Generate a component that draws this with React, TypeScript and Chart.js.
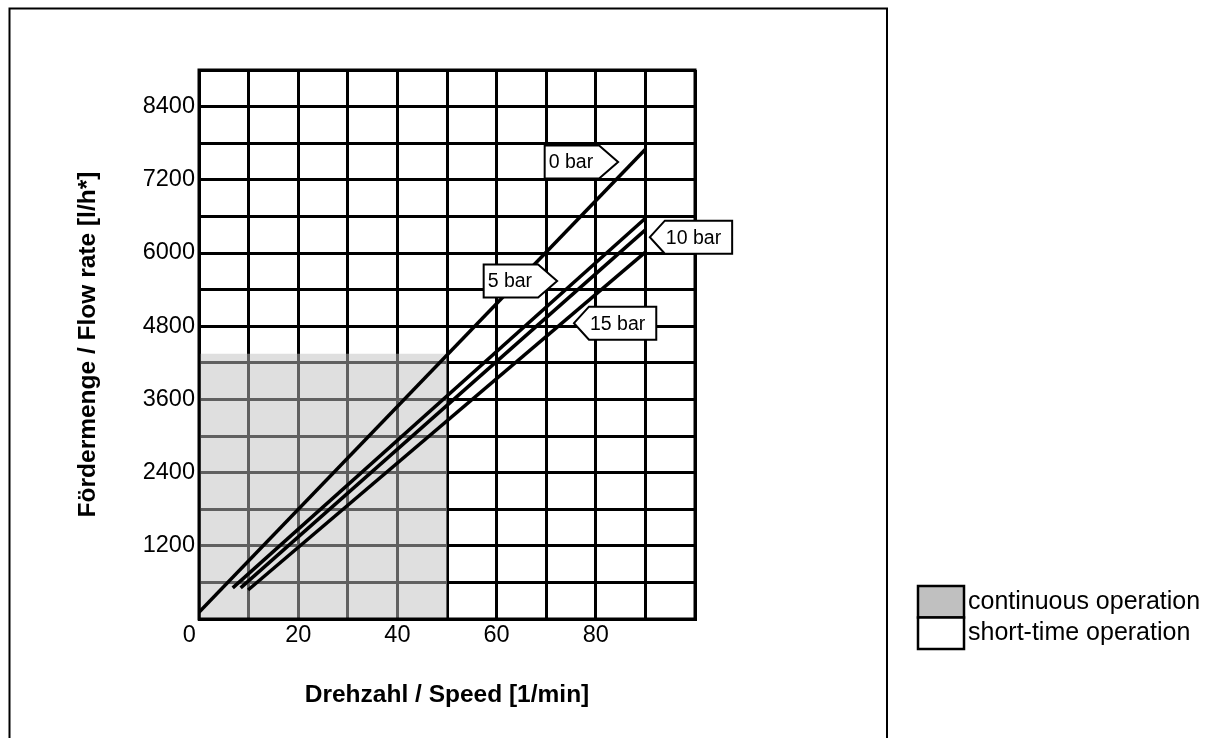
import { useEffect, useRef } from 'react';
import { Chart, registerables } from 'chart.js';

Chart.register(...registerables);

// ---- data ----
const speed0bar = [0, 90];
const flow0bar = [110, 7700];
const speed5bar = [6.8, 90];
const flow5bar = [510, 6570];
const speed10bar = [8.4, 90];
const flow10bar = [510, 6380];
const speed15bar = [9.9, 90];
const flow15bar = [475, 6015];

const continuousSpeed = [0, 50];
const continuousFlow = [4350, 4350];

const xTickLabels = [0, 20, 40, 60, 80];
const yTickLabels = [1200, 2400, 3600, 4800, 6000, 7200, 8400];

const calloutTexts = ['0 bar', '5 bar', '10 bar', '15 bar'];
const calloutSpeed = [84.5, 72.2, 90.9, 75.6];
const calloutFlow = [7490, 5540, 6260, 4850];
const calloutPointsRight = [true, true, false, false];

const legendLabels = ['continuous operation', 'short-time operation'];
const legendColors = ['#c0c0c0', '#ffffff'];

const xTitle = 'Drehzahl / Speed [1/min]';
const yTitle = 'Fördermenge / Flow rate [l/h*]';

const FONT = "'Liberation Sans', Arial, Helvetica, sans-serif";
const SHADE_INDEX = 4;

const toPoints = (xs: number[], ys: number[]) => xs.map((x, i) => ({ x, y: ys[i] }));

const framePlugin = {
  id: 'frame',
  beforeDraw(chart: any) {
    const ctx = chart.ctx;
    ctx.save();
    ctx.fillStyle = '#ffffff';
    ctx.fillRect(0, 0, chart.width, chart.height);
    ctx.strokeStyle = '#000000';
    ctx.lineWidth = 2;
    ctx.strokeRect(9.5, 8.5, 877.5, 800);
    ctx.restore();
  },
};

const areaBorderPlugin = {
  id: 'areaBorder',
  afterDatasetDraw(chart: any, args: any) {
    if (args.index !== SHADE_INDEX) return;
    const { left, top, right, bottom } = chart.chartArea;
    const ctx = chart.ctx;
    ctx.save();
    ctx.strokeStyle = '#000000';
    ctx.lineWidth = 3;
    ctx.strokeRect(left, top, right - left, bottom - top);
    ctx.restore();
  },
};

const calloutPlugin = {
  id: 'callouts',
  afterDatasetsDraw(chart: any) {
    const ctx = chart.ctx;
    const xs = chart.scales.x;
    const ys = chart.scales.y;
    ctx.save();
    ctx.font = `19.5px ${FONT}`;
    ctx.textBaseline = 'middle';
    ctx.textAlign = 'left';
    calloutTexts.forEach((t, i) => {
      const tx = xs.getPixelForValue(calloutSpeed[i]);
      const ty = ys.getPixelForValue(calloutFlow[i]);
      const w = ctx.measureText(t).width;
      const half = 16.5;
      let textX: number;
      ctx.beginPath();
      if (calloutPointsRight[i]) {
        const bodyRight = tx - 19;
        const bodyLeft = bodyRight - w - 10;
        ctx.moveTo(bodyLeft, ty - half);
        ctx.lineTo(bodyRight, ty - half);
        ctx.lineTo(tx, ty);
        ctx.lineTo(bodyRight, ty + half);
        ctx.lineTo(bodyLeft, ty + half);
        textX = bodyLeft + 4;
      } else {
        const bodyLeft = tx + 15;
        const bodyRight = bodyLeft + w + 12;
        ctx.moveTo(tx, ty);
        ctx.lineTo(bodyLeft, ty - half);
        ctx.lineTo(bodyRight, ty - half);
        ctx.lineTo(bodyRight, ty + half);
        ctx.lineTo(bodyLeft, ty + half);
        textX = bodyLeft + 1;
      }
      ctx.closePath();
      ctx.fillStyle = '#ffffff';
      ctx.fill();
      ctx.strokeStyle = '#000000';
      ctx.lineWidth = 2;
      ctx.stroke();
      ctx.fillStyle = '#000000';
      ctx.fillText(t, textX, ty + 1);
    });
    ctx.restore();
  },
};

const legendPlugin = {
  id: 'sideLegend',
  afterDraw(chart: any) {
    const ctx = chart.ctx;
    const bx = 918;
    const by = 586;
    const bw = 46;
    const bh = 31.5;
    ctx.save();
    ctx.font = `25px ${FONT}`;
    ctx.textBaseline = 'middle';
    ctx.textAlign = 'left';
    legendLabels.forEach((label, i) => {
      const y = by + i * bh;
      ctx.fillStyle = legendColors[i];
      ctx.fillRect(bx, y, bw, bh);
      ctx.strokeStyle = '#000000';
      ctx.lineWidth = 2.5;
      ctx.strokeRect(bx, y, bw, bh);
      ctx.fillStyle = '#000000';
      ctx.fillText(label, 968, y + bh / 2);
    });
    ctx.restore();
  },
};

export default function App() {
  const canvasRef = useRef<HTMLCanvasElement | null>(null);

  useEffect(() => {
    if (!canvasRef.current) return;
    Chart.defaults.font.family = FONT;
    const lineStyle = {
      borderColor: '#000000',
      borderWidth: 3.5,
      pointRadius: 0,
      fill: false,
      tension: 0,
      order: 0,
    };
    const chart = new Chart(canvasRef.current, {
      type: 'line',
      data: {
        datasets: [
          { label: '0 bar', data: toPoints(speed0bar, flow0bar), ...lineStyle },
          { label: '5 bar', data: toPoints(speed5bar, flow5bar), ...lineStyle },
          { label: '10 bar', data: toPoints(speed10bar, flow10bar), ...lineStyle },
          { label: '15 bar', data: toPoints(speed15bar, flow15bar), ...lineStyle },
          {
            label: legendLabels[0],
            data: toPoints(continuousSpeed, continuousFlow),
            borderWidth: 0,
            borderColor: 'rgba(0,0,0,0)',
            backgroundColor: 'rgba(192,192,192,0.5)',
            pointRadius: 0,
            fill: 'origin',
            order: 1,
          },
        ],
      },
      options: {
        responsive: false,
        animation: false,
        events: [],
        layout: { padding: { left: 0, top: 70, right: 521, bottom: 0 } },
        plugins: {
          legend: { display: false },
          tooltip: { enabled: false },
          title: { display: false },
        },
        scales: {
          x: {
            type: 'linear',
            min: 0,
            max: 100,
            afterFit: (scale: any) => {
              scale.height = 119;
            },
            afterBuildTicks: (scale: any) => {
              const t: any[] = [];
              for (let v = 0; v <= 100; v += 10) t.push({ value: v });
              scale.ticks = t;
            },
            ticks: {
              autoSkip: false,
              maxRotation: 0,
              padding: 2,
              color: '#000000',
              font: { size: 23.5, family: FONT },
              callback: (v: any) => {
                const n = Number(v);
                if (!xTickLabels.includes(n)) return '';
                return n === 0 ? '0   ' : String(n);
              },
            },
            grid: { color: '#000000', lineWidth: 3, drawTicks: false },
            border: { color: '#000000', width: 3 },
            title: {
              display: true,
              text: xTitle,
              color: '#000000',
              font: { size: 24.5, weight: 'bold', family: FONT },
              padding: { top: 0, bottom: 28.3 },
            },
          },
          y: {
            type: 'linear',
            min: 0,
            max: 9000,
            afterFit: (scale: any) => {
              scale.width = 199;
            },
            afterBuildTicks: (scale: any) => {
              const t: any[] = [];
              for (let v = 0; v <= 9000; v += 600) t.push({ value: v });
              scale.ticks = t;
            },
            ticks: {
              autoSkip: false,
              padding: 4,
              color: '#000000',
              font: { size: 23.5, family: FONT },
              callback: (v: any) => (yTickLabels.includes(Number(v)) ? String(v) : ''),
            },
            grid: { color: '#000000', lineWidth: 3, drawTicks: false },
            border: { color: '#000000', width: 3 },
            title: {
              display: true,
              text: yTitle,
              color: '#000000',
              font: { size: 24.5, weight: 'bold', family: FONT },
              padding: { top: 73.3, bottom: 0 },
            },
          },
        },
      },
      plugins: [framePlugin, areaBorderPlugin, calloutPlugin, legendPlugin],
    } as any);
    return () => chart.destroy();
  }, []);

  return (
    <div style={{ position: 'absolute', left: 0, top: 0, width: 1216, height: 738 }}>
      <canvas ref={canvasRef} width={1216} height={738} style={{ width: 1216, height: 738, display: 'block' }} />
    </div>
  );
}
